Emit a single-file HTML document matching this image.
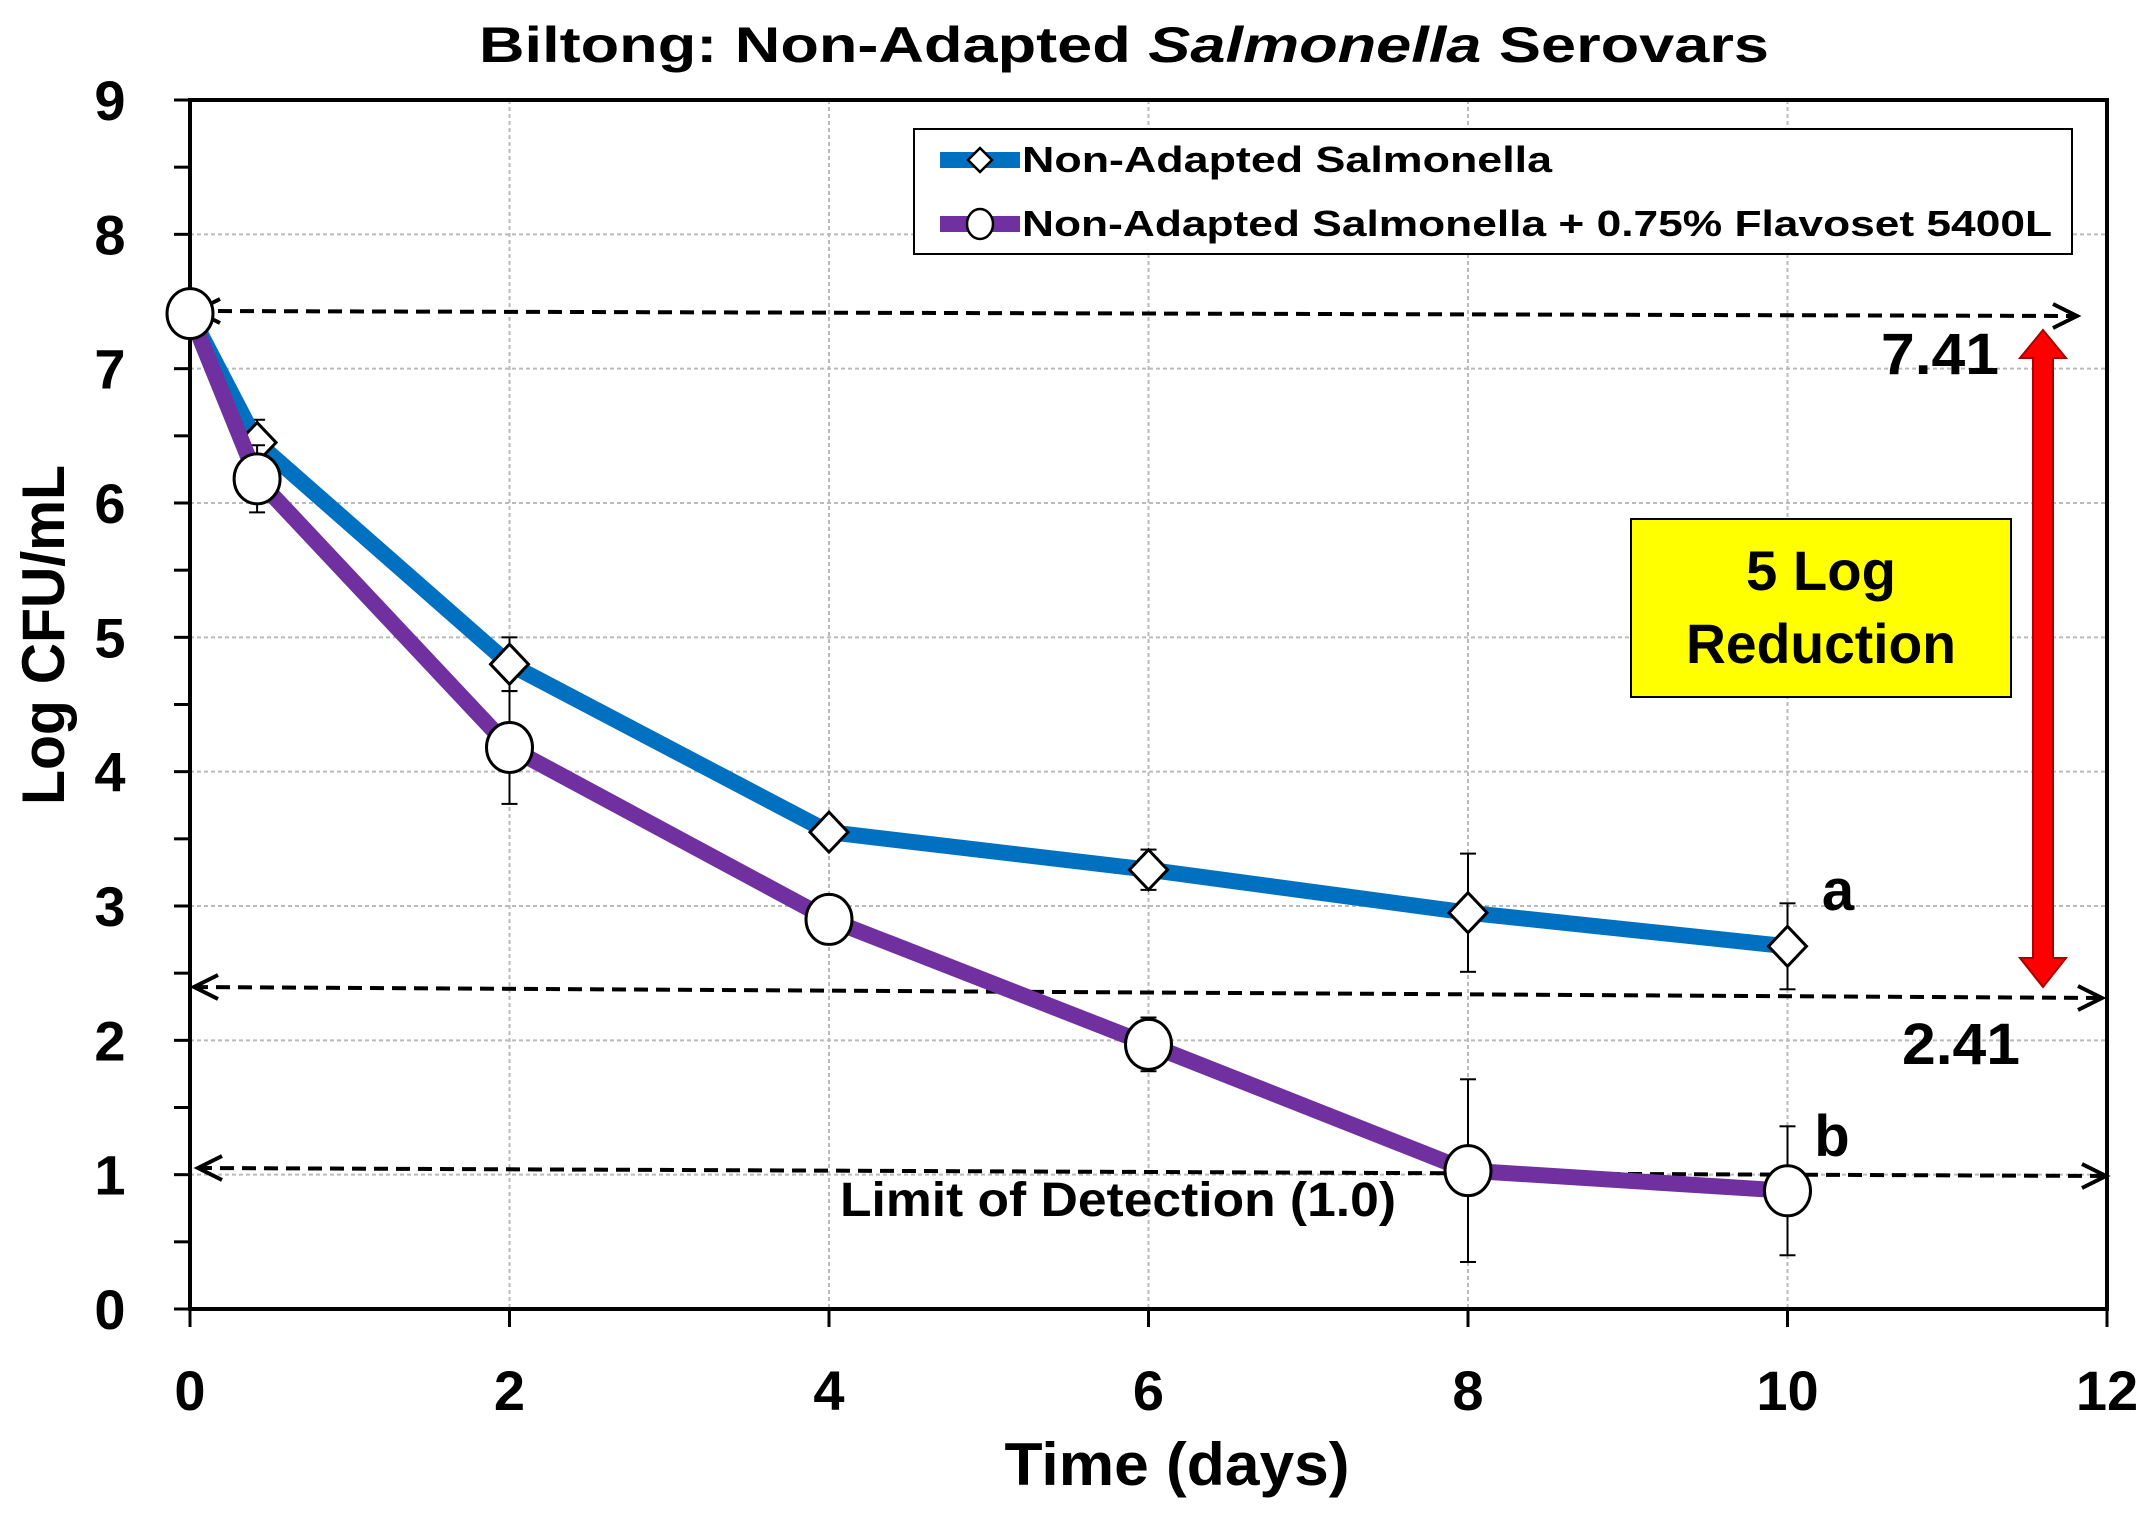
<!DOCTYPE html>
<html><head><meta charset="utf-8"><style>
html,body{margin:0;padding:0;background:#fff}
svg{display:block}
text{font-family:"Liberation Sans",sans-serif;font-weight:bold;fill:#000}
</style></head><body>
<svg id="chart" width="2154" height="1518" viewBox="0 0 2154 1518" xmlns="http://www.w3.org/2000/svg">
<text x="1124" y="62" text-anchor="middle" font-size="50" textLength="1290" lengthAdjust="spacingAndGlyphs">Biltong: Non-Adapted <tspan font-style="italic">Salmonella</tspan> Serovars</text>
<g id="grid"></g>
<g id="axes"></g>
<g id="annot"></g>
<g id="series"></g>
<text x="1177" y="1485" text-anchor="middle" font-size="60" textLength="345" lengthAdjust="spacingAndGlyphs">Time (days)</text>
<text transform="translate(64,635) rotate(-90)" text-anchor="middle" font-size="60" textLength="340" lengthAdjust="spacingAndGlyphs">Log CFU/mL</text>
<g>
<rect x="914" y="129" width="1158" height="125" fill="#fff" stroke="#000" stroke-width="2"/>
<g>
<line x1="940" y1="160" x2="1020" y2="160" stroke="#0070C0" stroke-width="16"/>
<path d="M980 148 L992 160 L980 172 L968 160 Z" fill="#fff" stroke="#000" stroke-width="2.5"/>
<text x="1022" y="172" font-size="36" textLength="530" lengthAdjust="spacingAndGlyphs">Non-Adapted Salmonella</text>
</g>
<g>
<line x1="940" y1="224" x2="1020" y2="224" stroke="#7030A0" stroke-width="16"/>
<ellipse cx="980" cy="224" rx="13" ry="15" fill="#fff" stroke="#000" stroke-width="2.5"/>
<text x="1022" y="236" font-size="36" textLength="1030" lengthAdjust="spacingAndGlyphs">Non-Adapted Salmonella + 0.75% Flavoset 5400L</text>
</g>
</g>
</svg>
<script>
const days = [0, 0.42, 2, 4, 6, 8, 10];
const nonAdapted = [7.41, 6.45, 4.8, 3.55, 3.27, 2.95, 2.7];
const nonAdaptedErr = [0.05, 0.17, 0.2, 0.05, 0.15, 0.44, 0.32];
const flavoset = [7.41, 6.18, 4.18, 2.9, 1.97, 1.03, 0.88];
const flavosetErr = [0.05, 0.25, 0.42, 0.05, 0.2, 0.68, 0.48];
const xTicks = [0, 2, 4, 6, 8, 10, 12];
const yTicks = [0, 1, 2, 3, 4, 5, 6, 7, 8, 9];

const NS = "http://www.w3.org/2000/svg";
const X0 = 190, X1 = 2107, Y0 = 1309, Y1 = 100;
const xs = v => X0 + (v / 12) * (X1 - X0);
const ys = v => Y0 - (v / 9) * (Y0 - Y1);
function mk(tag, attrs, parent) {
  const e = document.createElementNS(NS, tag);
  for (const k in attrs) e.setAttribute(k, attrs[k]);
  parent.appendChild(e);
  return e;
}
const grid = document.getElementById('grid');
const axes = document.getElementById('axes');
const annot = document.getElementById('annot');
const series = document.getElementById('series');

yTicks.forEach(v => {
  if (v > 0) {
    const l = mk('line', {x1: X0, x2: X1, y1: ys(v), y2: ys(v), stroke: '#bbb', 'stroke-width': 2, 'stroke-dasharray': '4 3'}, grid);
    
    
  }
  const t = mk('text', {x: 110, y: ys(v) + 20, 'text-anchor': 'middle', 'font-size': 56}, axes);
  t.textContent = v;
  
  
  mk('line', {x1: X0 - 16, x2: X0, y1: ys(v), y2: ys(v), stroke: '#000', 'stroke-width': 3}, axes);
  if (v < 9) mk('line', {x1: X0 - 16, x2: X0, y1: ys(v + 0.5), y2: ys(v + 0.5), stroke: '#000', 'stroke-width': 3}, axes);
});
xTicks.forEach(v => {
  if (v > 0 && v < 12) {
    const l = mk('line', {x1: xs(v), x2: xs(v), y1: Y1, y2: Y0, stroke: '#bbb', 'stroke-width': 2, 'stroke-dasharray': '4 3'}, grid);
    
    
  }
  const t = mk('text', {x: xs(v), y: 1410, 'text-anchor': 'middle', 'font-size': 56}, axes);
  t.textContent = v;
  
  
  mk('line', {x1: xs(v), x2: xs(v), y1: Y0, y2: Y0 + 18, stroke: '#000', 'stroke-width': 3}, axes);
});
const frame = mk('rect', {x: X0, y: Y1, width: X1 - X0, height: Y0 - Y1, fill: 'none', stroke: '#000', 'stroke-width': 4}, axes);



function dashArrow(x1, y1, x2, y2, name, left) {
  const g = mk('g', {}, annot);
  
  
  mk('line', {x1, y1, x2, y2, stroke: '#000', 'stroke-width': 4, 'stroke-dasharray': '14 8'}, g);
  mk('path', {d: `M${x2-24} ${y2-12} L${x2} ${y2} L${x2-24} ${y2+12}`, fill: 'none', stroke: '#000', 'stroke-width': 4}, g);
  if (left) mk('path', {d: `M${x1+24} ${y1-12} L${x1} ${y1} L${x1+24} ${y1+12}`, fill: 'none', stroke: '#000', 'stroke-width': 4}, g);
}
dashArrow(196, 311, 2077, 316, 'initial-count-arrow', true);
dashArrow(194, 987, 2102, 998, 'reduction-target-arrow', true);
dashArrow(198, 1168, 2106, 1176, 'detection-limit-arrow', true);

function label(txt, x, y, size, name, len) {
  const t = mk('text', {x, y, 'font-size': size, 'text-anchor': 'middle'}, annot);
  if (len) { t.setAttribute('textLength', len); t.setAttribute('lengthAdjust', 'spacingAndGlyphs'); }
  t.textContent = txt;
  
  
}
label('7.41', 1940, 374, 58, 'label-7-41', 118);
label('2.41', 1961, 1064, 58, 'label-2-41', 118);
label('a', 1838, 910, 58, 'significance-a');
label('b', 1832, 1156, 58, 'significance-b');
label('Limit of Detection (1.0)', 1118, 1216, 48, 'detection-limit-label', 556);

const box = mk('rect', {x: 1631, y: 519, width: 380, height: 178, fill: '#FFFF00', stroke: '#000', 'stroke-width': 2}, annot);


label('5 Log', 1821, 590, 56, 'five-log-text', 150);
label('Reduction', 1821, 663, 56, 'reduction-text', 270);

const red = mk('path', {d: 'M2043 330 L2066 358 L2053 358 L2053 958 L2066 958 L2043 987 L2020 958 L2033 958 L2033 358 L2020 358 Z', fill: '#FF0000', stroke: '#a00', 'stroke-width': 2}, annot);



function drawSeries(vals, errs, color, marker, name) {
  const g = mk('g', {}, series);
  
  
  vals.forEach((v, i) => {
    const x = xs(days[i]);
    const e = mk('line', {x1: x, x2: x, y1: ys(v + errs[i]), y2: ys(v - errs[i]), stroke: '#000', 'stroke-width': 2}, g);
    
    
    mk('line', {x1: x - 8, x2: x + 8, y1: ys(v + errs[i]), y2: ys(v + errs[i]), stroke: '#000', 'stroke-width': 2}, g);
    mk('line', {x1: x - 8, x2: x + 8, y1: ys(v - errs[i]), y2: ys(v - errs[i]), stroke: '#000', 'stroke-width': 2}, g);
  });
  const pts = vals.map((v, i) => xs(days[i]) + ',' + ys(v)).join(' ');
  const pl = mk('polyline', {points: pts, fill: 'none', stroke: color, 'stroke-width': 16, 'stroke-linejoin': 'round'}, g);
  
  
  vals.forEach((v, i) => {
    const x = xs(days[i]), y = ys(v);
    let m;
    if (marker === 'diamond') m = mk('path', {d: `M${x} ${y-20} L${x+19} ${y} L${x} ${y+20} L${x-19} ${y} Z`, fill: '#fff', stroke: '#000', 'stroke-width': 3}, g);
    else m = mk('ellipse', {cx: x, cy: y, rx: 23, ry: 25, fill: '#fff', stroke: '#000', 'stroke-width': 3}, g);
    
    
  });
}
drawSeries(nonAdapted, nonAdaptedErr, '#0070C0', 'diamond', 'non-adapted');
drawSeries(flavoset, flavosetErr, '#7030A0', 'circle', 'flavoset');
</script>
</body></html>
